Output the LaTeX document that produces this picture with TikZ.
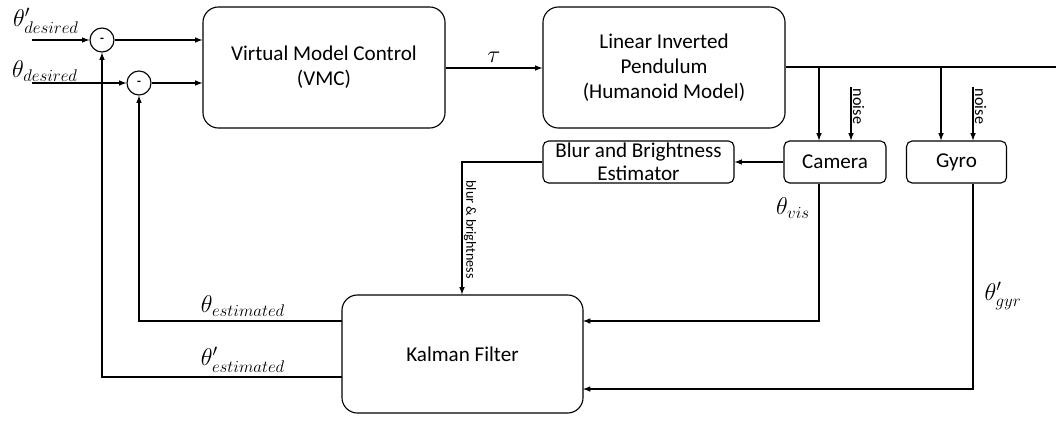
\documentclass[tikz,border=0pt]{standalone}
\usepackage{amsmath}
\usepackage{fontspec}
\setmainfont{Carlito}
\usetikzlibrary{arrows,calc,positioning}

\begin{document}
\begin{tikzpicture}[x=0.025cm,y=-0.025cm]
\tikzstyle{block}=[rectangle, rounded corners=11pt, draw=black, line width=0.8pt, align=center, font=\fontsize{15}{17.8}\selectfont]
\tikzstyle{big}=[block, minimum width=6.05cm, minimum height=3.025cm]
\tikzstyle{small}=[block, rounded corners=4pt, minimum height=1.05cm, inner sep=0pt, font=\fontsize{15}{16.5}\selectfont]
\tikzstyle{sum}=[circle, draw=black, line width=0.8pt, minimum size=0.6cm, inner sep=0pt, font=\bfseries\small]
\tikzstyle{connect}=[-latex, line width=0.8pt]
\tikzstyle{line}=[line width=0.8pt]
\tikzstyle{sig}=[font=\fontsize{18}{20}\selectfont]
\tikzstyle{tiny}=[font=\fontsize{10}{11}\selectfont, rotate=-90, inner sep=1pt]

\useasboundingbox (0,0) rectangle (1056,420);

  % blocks
  \node[big] (vmc) at (324,67.5) {Virtual Model Control\\(VMC)};
  \node[big] (lip) at (664,67.5) {Linear Inverted\\Pendulum\\(Humanoid Model)};
  \node[small, minimum width=4.775cm] (blur) at (638.5,162) {Blur and Brightness\\Estimator};
  \node[small, minimum width=2.55cm] (cam) at (835,162) {Camera};
  \node[small, minimum width=2.5cm] (gyro) at (956.5,162) {Gyro};
  \node[big, minimum width=6.025cm, minimum height=2.95cm] (kal) at (462.5,354) {Kalman Filter};

  % summing points
  \node[sum] (sum1) at (102,40) {-};
  \node[sum] (sum2) at (139,83) {-};

  % coordinates
  \coordinate (in1) at (32,40);
  \coordinate (in2) at (32,83);
  \coordinate (tau) at (490,68);
  \coordinate (out) at (1056,67);
  \coordinate (tapc) at (819,67);
  \coordinate (tapg) at (941,67);
  \coordinate (nc) at (851,87);
  \coordinate (ng) at (973,87);
  \coordinate (bb) at (462,162);
  \coordinate (visin) at (583,321);
  \coordinate (gyrin) at (583,389);
  \coordinate (est) at (342,321);
  \coordinate (dest) at (342,377);

  % inputs
  \draw[connect] (in1) -- (sum1.west);
  \draw[connect] (in2) -- (sum2.west);
  \node[sig] (ldes1) at (46,21) {$\theta'_{desired}$};
  \node[sig] (ldes2) at (45,71) {$\theta_{desired}$};
  \draw[connect] (sum1.east) -- (sum1.east -| vmc.west);
  \draw[connect] (sum2.east) -- (sum2.east -| vmc.west);

  % forward path
  \draw[connect] (vmc.east |- tau) -- node[sig, above] {$\tau$} (lip.west |- tau);
  \draw[line] (lip.east |- out) -- (out);
  \draw[connect] (tapc) -- (tapc |- cam.north);
  \draw[connect] (tapg) -- (tapg |- gyro.north);
  \draw[connect] (nc) -- node[tiny, pos=0, anchor=south west, font=\fontsize{11.5}{12}\selectfont] {noise} (nc |- cam.north);
  \draw[connect] (ng) -- node[tiny, pos=0, anchor=south west, font=\fontsize{11.5}{12}\selectfont] {noise} (ng |- gyro.north);
  \draw[connect] (cam.west) -- (blur.east);
  \draw[connect] (blur.west) -- (bb) -- node[tiny, anchor=south, xshift=1pt] {blur \& brightness} (bb |- kal.north);

  % measurements
  \draw[connect] (tapc |- cam.south) |- (visin);
  \node[sig] (vis) at (793,208) {$\theta_{vis}$};
  \draw[connect] (ng |- gyro.south) |- (gyrin);
  \node[sig] (gyr) at (1003,296) {$\theta'_{gyr}$};

  % feedback
  \draw[connect] (est) -| (sum2.south);
  \draw[connect] (dest) -| (sum1.south);
  \node[sig] (lest) at (243,306) {$\theta_{estimated}$};
  \node[sig] (ldest) at (243,360) {$\theta'_{estimated}$};

\end{tikzpicture}
\end{document}
